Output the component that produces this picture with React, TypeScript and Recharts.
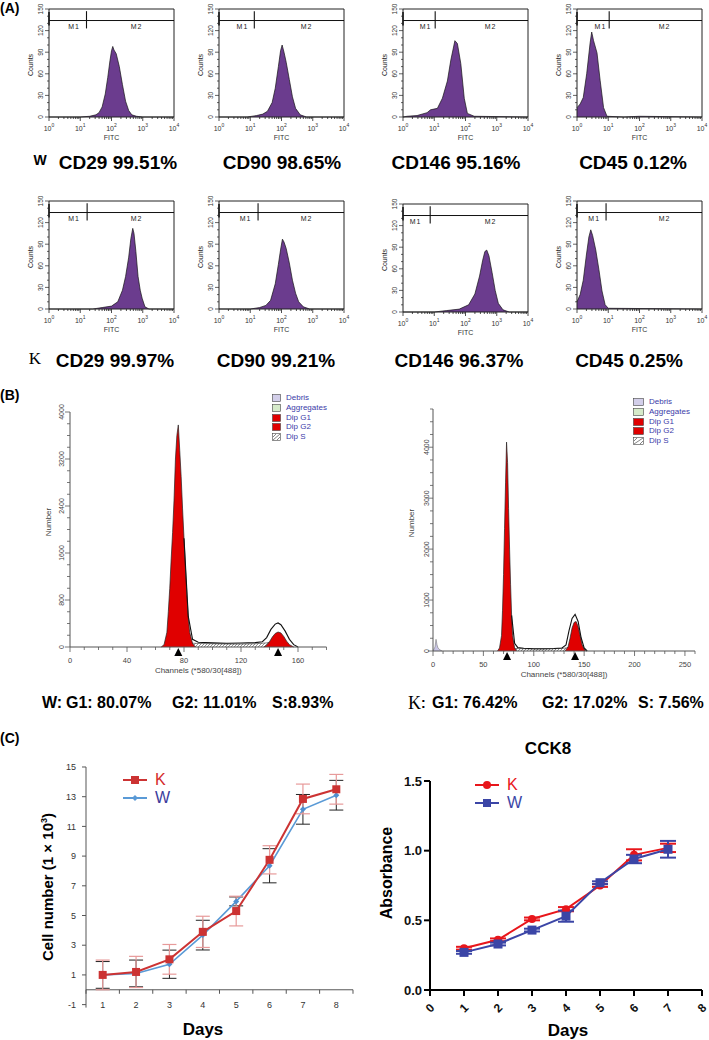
import React from "react";
import {
  Area,
  ComposedChart,
  ErrorBar,
  Line,
  ReferenceDot,
  ReferenceLine,
  Scatter,
  XAxis,
  YAxis,
} from "recharts";

const SANS = "'Liberation Sans', Arial, sans-serif";
const SERIF = "'Liberation Serif', 'Times New Roman', serif";

// ---------- (A) flow cytometry, x = log10(FITC), y = counts ----------
const wCd29Lg = [0, 1.0, 1.3, 1.5, 1.6, 1.7, 1.8, 1.88, 1.95, 2.0, 2.04, 2.08, 2.15, 2.25, 2.35, 2.45, 2.55, 2.65, 2.8, 3.0, 4.0];
const wCd29N = [0, 0, 1, 3, 6, 14, 32, 55, 78, 92, 98, 93, 88, 70, 45, 22, 9, 3, 1, 0, 0];
const wCd90Lg = [0, 0.9, 1.2, 1.4, 1.55, 1.7, 1.8, 1.9, 1.97, 2.02, 2.08, 2.15, 2.25, 2.35, 2.45, 2.6, 2.8, 4];
const wCd90N = [0, 0, 2, 4, 8, 20, 40, 70, 92, 100, 90, 76, 52, 28, 12, 3, 0, 0];
const wCd146Lg = [0, 0.13, 0.45, 0.77, 0.88, 1.1, 1.26, 1.42, 1.53, 1.66, 1.74, 1.85, 1.96, 2.06, 2.28, 4];
const wCd146N = [0, 1, 2, 6, 10, 12, 26, 50, 79, 106, 102, 74, 26, 5, 1, 0];
const wCd45Lg = [0, 0.1, 0.2, 0.31, 0.42, 0.47, 0.53, 0.64, 0.74, 0.85, 0.96, 1.5, 2, 4];
const wCd45N = [13, 18, 27, 60, 103, 118, 106, 89, 51, 13, 1, 0, 1, 0];
const kCd29Lg = [0, 1.4, 1.7, 2.0, 2.2, 2.35, 2.45, 2.55, 2.62, 2.68, 2.72, 2.78, 2.85, 2.92, 2.98, 3.07, 3.2, 4];
const kCd29N = [0, 0, 2, 4, 10, 26, 45, 72, 98, 112, 105, 80, 45, 26, 15, 3, 0, 0];
const kCd90Lg = [0, 1.0, 1.3, 1.5, 1.65, 1.8, 1.9, 1.98, 2.03, 2.08, 2.15, 2.25, 2.35, 2.45, 2.55, 2.7, 2.9, 4];
const kCd90N = [0, 0, 2, 5, 12, 35, 62, 85, 97, 93, 84, 64, 40, 22, 10, 3, 0, 0];
const kCd146Lg = [0, 1.0, 1.4, 1.8, 2.1, 2.3, 2.45, 2.55, 2.62, 2.68, 2.75, 2.85, 2.95, 3.05, 3.2, 3.4, 4];
const kCd146N = [0, 0, 2, 4, 10, 25, 50, 72, 84, 86, 78, 55, 30, 12, 3, 0, 0];
const kCd45Lg = [0, 0.1, 0.2, 0.3, 0.38, 0.44, 0.5, 0.6, 0.7, 0.8, 0.9, 1.0, 4];
const kCd45N = [10, 20, 40, 75, 100, 110, 102, 82, 55, 25, 6, 1, 0];

const markers = ["CD29", "CD90", "CD146", "CD45"];
const wPositive = ["99.51%", "98.65%", "95.16%", "0.12%"];
const kPositive = ["99.97%", "99.21%", "96.37%", "0.25%"];
const wGates = [1.2, 1.13, 1.03, 1.03];
const kGates = [1.22, 1.25, 0.87, 0.93];
const wM1 = [0.8, 0.75, 0.72, 0.75];
const kM1 = [0.8, 0.85, 0.4, 0.55];

const countTicks = [0, 10, 20, 30, 40, 50, 60, 70, 80, 90, 100, 110, 120, 130, 140, 150];
const logMajor = [0, 1, 2, 3, 4];
const logTicks = [
  ...logMajor,
  ...[0, 1, 2, 3].flatMap((d) => [2, 3, 4, 5, 6, 7, 8, 9].map((m) => d + Math.log10(m))),
].sort((a, b) => a - b);

// ---------- (B) cell cycle, x = channel, y = number ----------
const wG1Ch = [64, 66, 68, 69, 70, 71, 72, 73, 74, 75, 76, 77, 78, 79, 80, 81, 82, 83, 84, 86, 88];
const wG1N = [0, 40, 250, 600, 1000, 1500, 1950, 2500, 3200, 3600, 3780, 3350, 2900, 2350, 1850, 1350, 900, 500, 250, 60, 0];
const wSCh = [70, 80, 90, 100, 110, 120, 130, 138, 145, 150, 155];
const wSN = [0, 70, 60, 55, 50, 50, 55, 70, 110, 80, 0];
const wG2Ch = [136, 138, 140, 142, 144, 146, 148, 150, 152, 154, 157];
const wG2N = [0, 30, 90, 170, 230, 255, 240, 180, 100, 40, 0];
const wSumCh = [80, 83, 86, 90, 100, 110, 120, 130, 135, 138, 141, 144, 146, 148, 151, 154, 157, 160];
const wSumN = [1850, 520, 130, 80, 70, 65, 68, 75, 90, 160, 300, 390, 410, 380, 270, 130, 40, 0];
const wPeakCh = [76, 146];

const kDebrisCh = [0, 2, 3, 4, 5, 7, 9];
const kDebrisN = [0, 80, 230, 120, 60, 20, 0];
const kG1Ch = [64, 66, 68, 69, 70, 71, 72, 73, 74, 75, 76, 77, 78, 79, 81, 83];
const kG1N = [0, 60, 300, 800, 1500, 2400, 3300, 4100, 3700, 2800, 2000, 1300, 700, 300, 60, 0];
const kSCh = [70, 80, 90, 100, 110, 120, 130, 136, 142, 148, 152];
const kSN = [0, 50, 45, 40, 40, 45, 55, 70, 90, 60, 0];
const kG2Ch = [131, 134, 136, 138, 140, 142, 144, 146, 148, 151];
const kG2N = [0, 80, 250, 450, 560, 580, 480, 300, 120, 0];
const kSumCh = [78, 81, 84, 90, 100, 110, 120, 128, 132, 135, 138, 141, 144, 147, 150, 153];
const kSumN = [700, 150, 70, 55, 45, 45, 50, 60, 120, 400, 640, 720, 580, 260, 60, 0];
const kPeakCh = [73.5, 141];

const cycleLegend = [
  { name: "Debris", fill: "#d3cfea" },
  { name: "Aggregates", fill: "#d6ebca" },
  { name: "Dip G1", fill: "#e00000" },
  { name: "Dip G2", fill: "#e00000" },
  { name: "Dip S", fill: "hatch" },
];

// ---------- (C) growth curves ----------
const days = [1, 2, 3, 4, 5, 6, 7, 8];
const kCells = [1.0, 1.2, 2.05, 3.9, 5.3, 8.75, 12.85, 13.5];
const kCellsErr = [1.0, 1.05, 1.0, 1.05, 1.0, 0.95, 1.0, 1.0];
const wCells = [1.0, 1.1, 1.72, 3.68, 5.95, 8.35, 12.15, 13.1];
const wCellsErr = [0.9, 0.9, 0.95, 1.0, 0.3, 1.15, 1.0, 1.0];
const cellTicks = [-1, 1, 3, 5, 7, 9, 11, 13, 15];
const halfDays = [0.5, 1.5, 2.5, 3.5, 4.5, 5.5, 6.5, 7.5, 8.5];

const cckDays = [1, 2, 3, 4, 5, 6, 7];
const kAbs = [0.3, 0.36, 0.51, 0.58, 0.75, 0.97, 1.02];
const kAbsErr = [0.01, 0.01, 0.01, 0.015, 0.01, 0.04, 0.03];
const wAbs = [0.27, 0.33, 0.43, 0.53, 0.77, 0.94, 1.01];
const wAbsErr = [0.01, 0.01, 0.01, 0.04, 0.01, 0.03, 0.06];
const cckXTicks = [0, 1, 2, 3, 4, 5, 6, 7, 8];
const cckYTicks = [0, 0.5, 1, 1.5];

const range = (a: number, b: number, s: number) => {
  const out: number[] = [];
  for (let v = a; v <= b + 1e-9; v += s) out.push(+v.toFixed(4));
  return out;
};
const pts = (xs: number[], ys: number[]) => xs.map((ch, i) => ({ ch, n: ys[i] }));

// plain text placed on the page
function T({
  x, y, children, size = 12, bold = false, family = SANS, color = "#000", anchor = "middle", rotate = 0,
}: any) {
  const tx = anchor === "middle" ? "-50%" : anchor === "end" ? "-100%" : "0";
  return (
    <div
      style={{
        position: "absolute",
        left: x,
        top: y,
        transform: `translate(${tx}, -50%)${rotate ? ` rotate(${rotate}deg)` : ""}`,
        fontSize: size,
        fontWeight: bold ? "bold" : "normal",
        fontFamily: family,
        color,
        lineHeight: 1,
        whiteSpace: "nowrap",
      }}
    >
      {children}
    </div>
  );
}

// ---------- (A) ----------
const logTick = (p: any) => {
  const v = p.payload.value;
  const major = Math.abs(v - Math.round(v)) < 1e-6;
  return (
    <g>
      <line x1={p.x} x2={p.x} y1={p.y} y2={p.y + (major ? 4 : 2)} stroke="#222" strokeWidth={0.8} />
      {major && (
        <text x={p.x} y={p.y + 13.5} textAnchor="middle" fontSize={7} fill="#333" fontFamily={SANS}>
          10
          <tspan dy={-3.5} fontSize={5}>
            {Math.round(v)}
          </tspan>
        </text>
      )}
    </g>
  );
};

const countTick = (p: any) => {
  const v = p.payload.value;
  const major = v % 30 === 0;
  const tx = p.x - 6;
  return (
    <g>
      <line x1={p.x} x2={p.x - (major ? 4 : 2)} y1={p.y} y2={p.y} stroke="#222" strokeWidth={0.7} />
      {major && (
        <text x={tx} y={p.y} transform={`rotate(-90 ${tx} ${p.y})`} textAnchor="middle" fontSize={6.5} fill="#333" fontFamily={SANS}>
          {v}
        </text>
      )}
    </g>
  );
};

const PW = 125;
const PH = 108;

function FlowHist({ ax, top, lg, n, gate, m1 }: any) {
  const data = lg.map((x: number, i: number) => ({ lg: x, n: n[i] }));
  const ml = 30, mt = 12, mr = 6, xh = 30;
  const mLabel = { fontSize: 7, fill: "#222", position: "center", fontFamily: SANS, letterSpacing: 1 };
  return (
    <div style={{ position: "absolute", left: ax - ml, top: top - mt, width: ml + PW + mr, height: mt + PH + xh }}>
      <ComposedChart width={ml + PW + mr} height={mt + PH + xh} data={data} margin={{ top: mt, right: mr, bottom: 0, left: 0 }}>
        <XAxis type="number" dataKey="lg" domain={[0, 4]} ticks={logTicks} interval={0} tick={logTick}
          tickLine={false} tickSize={0} tickMargin={0} height={xh} stroke="#222" />
        <YAxis type="number" domain={[0, 150]} ticks={countTicks} interval={0} tick={countTick}
          tickLine={false} tickSize={0} tickMargin={0} width={ml} stroke="#222" />
        <Area type="linear" dataKey="n" stroke="#151515" strokeWidth={0.7} fill="#6b3c8e" fillOpacity={1} isAnimationActive={false} />
        <ReferenceLine y={150} stroke="#222" />
        <ReferenceLine x={4} stroke="#222" />
        <ReferenceLine segment={[{ x: 0, y: 134 }, { x: 4, y: 134 }]} stroke="#111" />
        <ReferenceLine segment={[{ x: 0, y: 127 }, { x: 0, y: 146 }]} stroke="#111" strokeWidth={1.6} />
        <ReferenceLine segment={[{ x: gate, y: 123 }, { x: gate, y: 147 }]} stroke="#111" strokeWidth={1.1} />
        <ReferenceDot x={m1} y={125} r={0} stroke="none" label={{ value: "M1", ...mLabel }} />
        <ReferenceDot x={2.8} y={125} r={0} stroke="none" label={{ value: "M2", ...mLabel }} />
      </ComposedChart>
      <T x={ml - 19} y={mt + 56} size={7} rotate={-90} color="#222">Counts</T>
      <T x={ml + PW / 2} y={mt + PH + 20} size={7} color="#333">FITC</T>
    </div>
  );
}

const flowW = [
  { lg: wCd29Lg, n: wCd29N },
  { lg: wCd90Lg, n: wCd90N },
  { lg: wCd146Lg, n: wCd146N },
  { lg: wCd45Lg, n: wCd45N },
];
const flowK = [
  { lg: kCd29Lg, n: kCd29N },
  { lg: kCd90Lg, n: kCd90N },
  { lg: kCd146Lg, n: kCd146N },
  { lg: kCd45Lg, n: kCd45N },
];
const flowColX = [49, 219, 403, 577];

// ---------- (B) ----------
function cycleXTick(step: number, max: number) {
  return (p: any) => {
    const v = p.payload.value;
    const lab = v % step === 0 && v <= max;
    return (
      <g>
        <line x1={p.x} x2={p.x} y1={p.y} y2={p.y + (lab ? 5 : 3)} stroke="#555" strokeWidth={0.8} />
        {lab && (
          <text x={p.x} y={p.y + 15.5} textAnchor="middle" fontSize={7.5} fill="#444" fontFamily={SANS}>
            {v}
          </text>
        )}
      </g>
    );
  };
}
function cycleYTick(step: number, gap: number) {
  return (p: any) => {
    const v = p.payload.value;
    const lab = v % step === 0;
    const tx = p.x - gap;
    return (
      <g>
        <line x1={p.x} x2={p.x - (lab ? 5 : 3)} y1={p.y} y2={p.y} stroke="#555" strokeWidth={0.8} />
        {lab && (
          <text x={tx} y={p.y} transform={`rotate(-90 ${tx} ${p.y})`} textAnchor="middle" fontSize={7} fill="#444" fontFamily={SANS}>
            {v}
          </text>
        )}
      </g>
    );
  };
}

const triangle = (p: any) => (
  <polygon points={`${p.cx},${p.cy + 1} ${p.cx - 4},${p.cy + 9} ${p.cx + 4},${p.cy + 9}`} fill="#000" />
);

function CycleHist({ id, left, top, w, h, xMax, yMax, xStep, xLabStep, xLabMax, yStep, yLabStep, yGap, g1, s, g2, sum, debris, peaks, chY }: any) {
  const ml = 40, mt = 14, mr = 6, xh = 32;
  return (
    <div style={{ position: "absolute", left: left - ml, top: top - mt, width: ml + w + mr, height: mt + h + xh }}>
      <ComposedChart width={ml + w + mr} height={mt + h + xh} margin={{ top: mt, right: mr, bottom: 0, left: 0 }}>
        <defs>
          <pattern id={id} patternUnits="userSpaceOnUse" width={3} height={3}>
            <rect width={3} height={3} fill="#fff" />
            <path d="M0,3 L3,0" stroke="#222" strokeWidth={0.5} />
          </pattern>
        </defs>
        <XAxis type="number" dataKey="ch" domain={[0, xMax]} ticks={range(0, xMax, xStep)} interval={0}
          tick={cycleXTick(xLabStep, xLabMax)} tickLine={false} tickSize={0} tickMargin={0} height={xh} stroke="#555" />
        <YAxis type="number" domain={[0, yMax]} ticks={range(0, yMax, yStep)} interval={0}
          tick={cycleYTick(yLabStep, yGap)} tickLine={false} tickSize={0} tickMargin={0} width={ml} stroke="#555" />
        {debris && (
          <Area data={debris} type="linear" dataKey="n" stroke="#777" strokeWidth={0.6} fill="#c9c5e6" fillOpacity={1} isAnimationActive={false} />
        )}
        <Area data={s} type="linear" dataKey="n" stroke="#333" strokeWidth={0.6} fill={`url(#${id})`} fillOpacity={1} isAnimationActive={false} />
        <Area data={g1} type="linear" dataKey="n" stroke="#222" strokeWidth={0.7} fill="#e00000" fillOpacity={1} isAnimationActive={false} />
        <Area data={g2} type="linear" dataKey="n" stroke="#222" strokeWidth={0.7} fill="#e00000" fillOpacity={1} isAnimationActive={false} />
        <Line data={sum} type="linear" dataKey="n" stroke="#111" strokeWidth={1.1} dot={false} isAnimationActive={false} />
        <Scatter data={peaks} dataKey="n" shape={triangle} isAnimationActive={false} />
      </ComposedChart>
      <T x={ml - 21} y={mt + h * 0.47} size={8} rotate={-90} color="#444">Number</T>
      <T x={ml + w / 2} y={mt + h + chY} size={8} color="#444">Channels (*580/30[488])</T>
    </div>
  );
}

function CycleLegend({ left, top, box, gap }: any) {
  return (
    <div style={{ position: "absolute", left, top }}>
      {cycleLegend.map((it, i) => (
        <div key={it.name} style={{ position: "absolute", left: 0, top: i * gap - 4, display: "flex", alignItems: "center", height: 8 }}>
          <svg width={box + 1} height={8} style={{ display: "block" }}>
            <rect x={0.5} y={0.5} width={box} height={7} fill={it.fill === "hatch" ? "#fff" : it.fill} stroke="#444" strokeWidth={0.6} />
            {it.fill === "hatch" && <path d={`M1,7 L${box},1 M1,4 L4,1 M${box - 3},7 L${box},4`} stroke="#333" strokeWidth={0.6} />}
          </svg>
          <span style={{ marginLeft: 5, fontSize: 8, lineHeight: 1, color: "#3a3aa8", fontFamily: SANS, whiteSpace: "nowrap" }}>{it.name}</span>
        </div>
      ))}
    </div>
  );
}

// ---------- (C) ----------
const cellData = days.map((d, i) => ({ day: d, k: kCells[i], kErr: kCellsErr[i], w: wCells[i], wErr: wCellsErr[i] }));
const cckData = cckDays.map((d, i) => ({ day: d, k: kAbs[i], kErr: kAbsErr[i], w: wAbs[i], wErr: wAbsErr[i] }));

const redSquare = (p: any) => <rect key={p.index} x={p.cx - 4} y={p.cy - 4} width={8} height={8} fill="#cc3333" />;
const blueDiamond = (p: any) => (
  <polygon key={p.index} points={`${p.cx},${p.cy - 3} ${p.cx + 3},${p.cy} ${p.cx},${p.cy + 3} ${p.cx - 3},${p.cy}`} fill="#4f8fd0" />
);
const redCircle = (p: any) => <circle key={p.index} cx={p.cx} cy={p.cy} r={4} fill="#e8161b" />;
const blueSquare = (p: any) => <rect key={p.index} x={p.cx - 4.5} y={p.cy - 4.5} width={9} height={9} fill="#3b45a6" />;
const axisNotch = (p: any) => <line x1={p.cx} x2={p.cx} y1={p.cy} y2={p.cy + 4} stroke="#555" strokeWidth={1} />;

const cellXTick = (p: any) => (
  <text x={p.x} y={p.y} textAnchor="middle" fontSize={9} fill="#333" fontFamily={SANS}>
    {p.payload.value}
  </text>
);

function CellChart() {
  const left = 86, top = 767, w = 267, h = 240.6;
  const ml = 40, mt = 8, mr = 6, xh = 20;
  return (
    <div style={{ position: "absolute", left: left - ml, top: top - mt, width: ml + w + mr, height: mt + h + xh }}>
      <ComposedChart width={ml + w + mr} height={mt + h + xh} data={cellData} margin={{ top: mt, right: mr, bottom: 0, left: 0 }}>
        <XAxis type="number" dataKey="day" domain={[0.5, 8.5]} ticks={days} interval={0} tick={cellXTick}
          axisLine={false} tickLine={false} tickSize={0} tickMargin={0} height={xh} />
        <YAxis type="number" domain={[-1.2, 15]} ticks={cellTicks} interval={0} tickSize={4} tickMargin={6}
          width={ml} stroke="#555" tick={{ fontSize: 9, fill: "#333", fontFamily: SANS }} />
        <ReferenceLine y={0} stroke="#555" />
        <Scatter data={halfDays.map((d) => ({ day: d, z: 0 }))} dataKey="z" shape={axisNotch} isAnimationActive={false} />
        <Line type="linear" dataKey="w" stroke="#5a9ad6" strokeWidth={1.6} dot={blueDiamond} isAnimationActive={false}>
          <ErrorBar dataKey="wErr" width={7} stroke="#222" strokeWidth={1} direction="y" />
        </Line>
        <Line type="linear" dataKey="k" stroke="#cc3333" strokeWidth={2} dot={redSquare} isAnimationActive={false}>
          <ErrorBar dataKey="kErr" width={7} stroke="#e79a9a" strokeWidth={1.2} direction="y" />
        </Line>
      </ComposedChart>
    </div>
  );
}

const cckXTick = (p: any) => {
  const ty = p.y + 18;
  return (
    <g>
      <line x1={p.x} x2={p.x} y1={p.y} y2={p.y + 6} stroke="#000" strokeWidth={2} />
      <text x={p.x} y={ty} transform={`rotate(-45 ${p.x} ${ty})`} textAnchor="middle" dominantBaseline="central"
        fontSize={12} fontWeight="bold" fill="#111" fontFamily={SANS}>
        {p.payload.value}
      </text>
    </g>
  );
};

function CckChart() {
  const left = 430, top = 781, w = 272, h = 209;
  const ml = 45, mt = 10, mr = 7, xh = 40;
  return (
    <div style={{ position: "absolute", left: left - ml, top: top - mt, width: ml + w + mr, height: mt + h + xh }}>
      <ComposedChart width={ml + w + mr} height={mt + h + xh} data={cckData} margin={{ top: mt, right: mr, bottom: 0, left: 0 }}>
        <XAxis type="number" dataKey="day" domain={[0, 8]} ticks={cckXTicks} interval={0} tick={cckXTick}
          tickLine={false} tickSize={0} tickMargin={0} height={xh} axisLine={{ stroke: "#000", strokeWidth: 2 }} />
        <YAxis type="number" domain={[0, 1.5]} ticks={cckYTicks} interval={0} tickSize={6} tickMargin={2} width={ml}
          axisLine={{ stroke: "#000", strokeWidth: 2 }} tickLine={{ stroke: "#000", strokeWidth: 2 }}
          tickFormatter={(v: number) => v.toFixed(1)}
          tick={{ fontSize: 13, fontWeight: "bold", fill: "#111", fontFamily: SANS }} />
        <Line type="linear" dataKey="k" stroke="#e8161b" strokeWidth={2} dot={redCircle} isAnimationActive={false}>
          <ErrorBar dataKey="kErr" width={8} stroke="#e8161b" strokeWidth={2} direction="y" />
        </Line>
        <Line type="linear" dataKey="w" stroke="#3b45a6" strokeWidth={2} dot={blueSquare} isAnimationActive={false}>
          <ErrorBar dataKey="wErr" width={8} stroke="#3b45a6" strokeWidth={2} direction="y" />
        </Line>
      </ComposedChart>
    </div>
  );
}

function LegendRow({ x, y, color, textColor, label, marker, size }: any) {
  return (
    <div style={{ position: "absolute", left: x, top: y - 7, display: "flex", alignItems: "center", height: 14 }}>
      <svg width={24} height={12} style={{ display: "block" }}>
        <line x1={0} x2={24} y1={6} y2={6} stroke={color} strokeWidth={2} />
        {marker === "square" && <rect x={8} y={2} width={8} height={8} fill={color} />}
        {marker === "circle" && <circle cx={12} cy={6} r={4} fill={color} />}
        {marker === "diamond" && <polygon points="12,3 15,6 12,9 9,6" fill={color} />}
      </svg>
      <span style={{ marginLeft: 8, fontSize: size, color: textColor, fontFamily: SANS, lineHeight: 0.8 }}>{label}</span>
    </div>
  );
}

export default function App() {
  return (
    <div style={{ position: "absolute", left: 0, top: 0, width: 709, height: 1040, background: "#fff", overflow: "hidden", fontFamily: SANS }}>
      {/* (A) */}
      <T x={0} y={8} size={14} bold anchor="start">(A)</T>
      {flowW.map((f, i) => (
        <FlowHist key={`w${i}`} ax={flowColX[i]} top={9} lg={f.lg} n={f.n} gate={wGates[i]} m1={wM1[i]} />
      ))}
      {flowK.map((f, i) => (
        <FlowHist key={`k${i}`} ax={flowColX[i]} top={i === 2 ? 204 : 201} lg={f.lg} n={f.n} gate={kGates[i]} m1={kM1[i]} />
      ))}
      <T x={40} y={160} size={14} bold>W</T>
      <T x={35} y={358} size={17} family={SERIF}>K</T>
      {[118, 282, 456, 633].map((x, i) => (
        <T key={`wl${i}`} x={x} y={162} size={19} bold>{`${markers[i]} ${wPositive[i]}`}</T>
      ))}
      {[115, 276, 459, 629].map((x, i) => (
        <T key={`kl${i}`} x={x} y={360} size={19} bold>{`${markers[i]} ${kPositive[i]}`}</T>
      ))}

      {/* (B) */}
      <T x={0} y={395} size={14} bold anchor="start">(B)</T>
      <CycleHist id="hatchW" left={70} top={412} w={256.5} h={235} xMax={180} yMax={4000} xStep={10} xLabStep={40} xLabMax={160}
        yStep={200} yLabStep={800} yGap={6} chY={24}
        g1={pts(wG1Ch, wG1N)} s={pts(wSCh, wSN)} g2={pts(wG2Ch, wG2N)} sum={pts(wSumCh, wSumN)}
        peaks={wPeakCh.map((ch) => ({ ch, n: 0 }))} />
      <CycleHist id="hatchK" left={433} top={409} w={262} h={242} xMax={260} yMax={4750} xStep={10} xLabStep={50} xLabMax={250}
        yStep={250} yLabStep={1000} yGap={4} chY={24}
        debris={pts(kDebrisCh, kDebrisN)} g1={pts(kG1Ch, kG1N)} s={pts(kSCh, kSN)} g2={pts(kG2Ch, kG2N)} sum={pts(kSumCh, kSumN)}
        peaks={kPeakCh.map((ch) => ({ ch, n: 0 }))} />
      <CycleLegend left={272} top={398} box={8} gap={9.8} />
      <CycleLegend left={633} top={402} box={10} gap={9.8} />
      <T x={42} y={703} size={16} bold anchor="start">W:</T>
      <T x={66} y={703} size={16} bold anchor="start">G1: 80.07%</T>
      <T x={172} y={703} size={16} bold anchor="start">G2: 11.01%</T>
      <T x={272} y={703} size={16} bold anchor="start">S:8.93%</T>
      <T x={408} y={703} size={18} family={SERIF} anchor="start">K</T>
      <T x={421} y={703} size={14} bold anchor="start">:</T>
      <T x={432} y={703} size={16} bold anchor="start">G1: 76.42%</T>
      <T x={542} y={703} size={16} bold anchor="start">G2: 17.02%</T>
      <T x={638} y={703} size={16} bold anchor="start">S: 7.56%</T>

      {/* (C) */}
      <T x={0} y={738} size={14} bold anchor="start">(C)</T>
      <CellChart />
      <LegendRow x={123} y={780} color="#cc3333" textColor="#d42a2a" label="K" marker="square" size={16} />
      <LegendRow x={123} y={798} color="#5a9ad6" textColor="#3c3c9c" label="W" marker="diamond" size={16} />
      <T x={47} y={887} size={15} bold rotate={-90}>
        Cell number (1 × 10<sup style={{ fontSize: 9 }}>3</sup>)
      </T>
      <T x={203} y={1029} size={17} bold>Days</T>

      <T x={548} y={748} size={17} bold>CCK8</T>
      <CckChart />
      <LegendRow x={475} y={785} color="#e8161b" textColor="#e8161b" label="K" marker="circle" size={16} />
      <LegendRow x={475} y={803} color="#3b45a6" textColor="#3b45a6" label="W" marker="square" size={16} />
      <T x={387} y={873} size={16} bold rotate={-90}>Absorbance</T>
      <T x={568} y={1030} size={17} bold>Days</T>
    </div>
  );
}
